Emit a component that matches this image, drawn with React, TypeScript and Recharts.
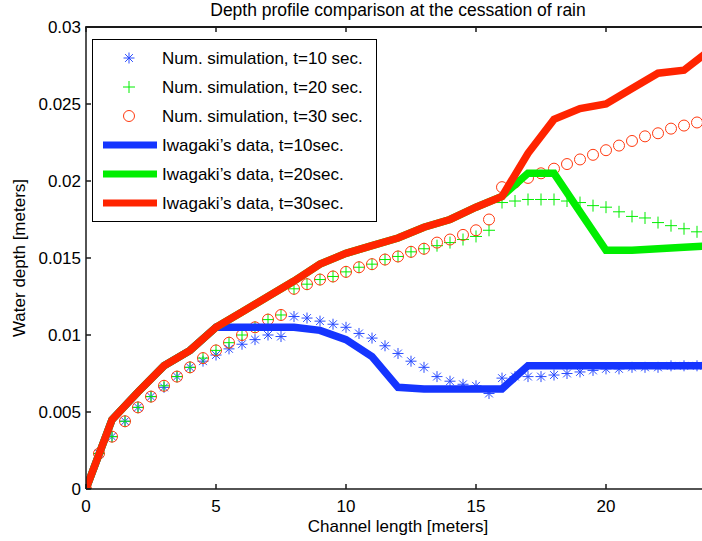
import React from 'react';
import { ComposedChart, Line, Scatter, XAxis, YAxis, Legend } from 'recharts';

// simulation output, every 0.5 m along the channel
const SIM_X = [
  0, 0.5, 1, 1.5, 2, 2.5, 3, 3.5, 4, 4.5, 5, 5.5, 6, 6.5, 7, 7.5, 8, 8.5, 9, 9.5, 10, 10.5, 11, 11.5,
  12, 12.5, 13, 13.5, 14, 14.5, 15, 15.5, 16, 16.5, 17, 17.5, 18, 18.5, 19, 19.5, 20, 20.5, 21, 21.5,
  22, 22.5, 23, 23.5,
];
const SIM_T10 = [
  0, 0.0023, 0.0034, 0.0044, 0.0053, 0.006, 0.0066, 0.0073, 0.0079, 0.0083, 0.0087, 0.0091, 0.0094,
  0.0097, 0.01, 0.0099, 0.0112, 0.0111, 0.0109, 0.0107, 0.0105, 0.0101, 0.0098, 0.0093, 0.0088,
  0.0083, 0.0079, 0.0073, 0.007, 0.0068, 0.0067, 0.0062, 0.0072, 0.0073, 0.0073, 0.0073, 0.0074,
  0.0075, 0.0076, 0.0077, 0.0078, 0.0078, 0.0079, 0.0079, 0.0079, 0.008, 0.008, 0.008,
];
const SIM_T20 = [
  0, 0.0023, 0.0034, 0.0044, 0.0053, 0.006, 0.0067, 0.0073, 0.0079, 0.0085, 0.009, 0.0095, 0.01,
  0.0105, 0.011, 0.0113, 0.013, 0.0133, 0.0136, 0.0138, 0.0141, 0.0144, 0.0146, 0.0149, 0.0151,
  0.0154, 0.0156, 0.0158, 0.016, 0.0162, 0.0164, 0.0168, 0.0186, 0.0187, 0.0188, 0.0188, 0.0188,
  0.0187, 0.0186, 0.0184, 0.0183, 0.018, 0.0177, 0.0176, 0.0173, 0.0171, 0.0169, 0.0167,
];
const SIM_T30 = [
  0, 0.0023, 0.0034, 0.0044, 0.0053, 0.006, 0.0067, 0.0073, 0.0079, 0.0085, 0.009, 0.0095, 0.01,
  0.0105, 0.011, 0.0113, 0.013, 0.0133, 0.0136, 0.0138, 0.0141, 0.0144, 0.0146, 0.0149, 0.0151,
  0.0154, 0.0156, 0.016, 0.0162, 0.0165, 0.0168, 0.0175, 0.0196, 0.0199, 0.0202, 0.0205, 0.0208,
  0.0211, 0.0214, 0.0217, 0.022, 0.0223, 0.0226, 0.0229, 0.0231, 0.0234, 0.0236, 0.0238,
];

// Iwagaki's measurements, every 1 m
const IWAGAKI_X = [0, 1, 2, 3, 4, 5, 6, 7, 8, 9, 10, 11, 12, 13, 14, 15, 16, 17, 18, 19, 20, 21, 22, 23, 24];
const IWAGAKI_T10 = [
  0, 0.0045, 0.0063, 0.008, 0.009, 0.0105, 0.0105, 0.0105, 0.0105, 0.0103, 0.0097, 0.0086, 0.0066,
  0.0065, 0.0065, 0.0065, 0.0065, 0.008, 0.008, 0.008, 0.008, 0.008, 0.008, 0.008, 0.008,
];
const IWAGAKI_T20 = [
  0, 0.0045, 0.0063, 0.008, 0.009, 0.0105, 0.0115, 0.0125, 0.0135, 0.0146, 0.0153, 0.0158, 0.0163,
  0.017, 0.0175, 0.0183, 0.019, 0.0205, 0.0205, 0.018, 0.0155, 0.0155, 0.0156, 0.0157, 0.0158,
];
const IWAGAKI_T30 = [
  0, 0.0045, 0.0063, 0.008, 0.009, 0.0105, 0.0115, 0.0125, 0.0135, 0.0146, 0.0153, 0.0158, 0.0163,
  0.017, 0.0175, 0.0183, 0.019, 0.0218, 0.024, 0.0247, 0.025, 0.026, 0.027, 0.0272, 0.0285,
];

const X_TICKS = [0, 5, 10, 15, 20];
const Y_TICKS = [0, 0.005, 0.01, 0.015, 0.02, 0.025, 0.03];
const X_MAX = 24;
const Y_MAX = 0.03;

const TITLE = 'Depth profile comparison at the cessation of rain';

// layout: the figure is cropped on the right, so the chart is wider than the 702px view
const CHART_W = 710;
const CHART_H = 541;
const PLOT_TOP = 27;
const Y_AXIS_W = 86;
const X_AXIS_H = 52;
const TICK_LEN = 5;
const AXIS_W = 1.5;

const FONT = '"Liberation Sans", Arial, Helvetica, sans-serif';
const AXIS_COLOR = '#1a1a1a';
const BLUE = '#1535ff';
const BLUE_MARK = '#2a4cff';
const GREEN = '#00ee00';
const RED = '#ff2400';
const RED_MARK = '#ff3a10';

const toPoints = (xs: number[], ys: number[]) => xs.map((x, i) => ({ x, y: ys[i] }));

type MarkerProps = { cx?: number; cy?: number; color: string };

function StarMarker({ cx = 0, cy = 0, color }: MarkerProps) {
  const r = 5.5;
  const d = 3.9;
  return (
    <g stroke={color} strokeWidth={1}>
      <line x1={cx - r} y1={cy} x2={cx + r} y2={cy} />
      <line x1={cx} y1={cy - r} x2={cx} y2={cy + r} />
      <line x1={cx - d} y1={cy - d} x2={cx + d} y2={cy + d} />
      <line x1={cx - d} y1={cy + d} x2={cx + d} y2={cy - d} />
    </g>
  );
}

function PlusMarker({ cx = 0, cy = 0, color }: MarkerProps) {
  const r = 6;
  return (
    <g stroke={color} strokeWidth={1}>
      <line x1={cx - r} y1={cy} x2={cx + r} y2={cy} />
      <line x1={cx} y1={cy - r} x2={cx} y2={cy + r} />
    </g>
  );
}

function CircleMarker({ cx = 0, cy = 0, color }: MarkerProps) {
  return <circle cx={cx} cy={cy} r={5.5} fill="none" stroke={color} strokeWidth={1} />;
}

const LEGEND_ITEMS = [
  { label: 'Num. simulation, t=10 sec.', kind: 'star', color: BLUE_MARK },
  { label: 'Num. simulation, t=20 sec.', kind: 'plus', color: GREEN },
  { label: 'Num. simulation, t=30 sec.', kind: 'circle', color: RED_MARK },
  { label: 'Iwagaki\u2019s data, t=10sec.', kind: 'line', color: BLUE },
  { label: 'Iwagaki\u2019s data, t=20sec.', kind: 'line', color: GREEN },
  { label: 'Iwagaki\u2019s data, t=30sec.', kind: 'line', color: RED },
];

function MatlabLegend() {
  return (
    <svg width={285} height={183} style={{ display: 'block' }}>
      <rect x={0.5} y={0.5} width={284} height={182} fill="#fff" stroke="#000" strokeWidth={1} />
      {LEGEND_ITEMS.map((item, i) => {
        const y = 19 + i * 29;
        return (
          <g key={item.label}>
            {item.kind === 'line' && (
              <line x1={11} y1={y} x2={65} y2={y} stroke={item.color} strokeWidth={7} />
            )}
            {item.kind === 'star' && <StarMarker cx={37} cy={y} color={item.color} />}
            {item.kind === 'plus' && <PlusMarker cx={37} cy={y} color={item.color} />}
            {item.kind === 'circle' && <CircleMarker cx={37} cy={y} color={item.color} />}
            <text x={70} y={y} dy="0.36em" fontSize={17} fill="#000" fontFamily={FONT}>
              {item.label}
            </text>
          </g>
        );
      })}
    </svg>
  );
}

function YLabel(props: any) {
  const vb = props.viewBox || { x: 0, y: PLOT_TOP, width: Y_AXIS_W, height: 462 };
  const x = vb.x + 25;
  const y = vb.y + vb.height / 2;
  return (
    <text x={x} y={y} transform={`rotate(-90, ${x}, ${y})`} textAnchor="middle" fontSize={17} fill="#000">
      Water depth [meters]
    </text>
  );
}

// top edge of the MATLAB axes box, with inward ticks at the x tick values
function BoxTop() {
  const plotW = CHART_W - Y_AXIS_W;
  const y = PLOT_TOP;
  return (
    <svg
      width={CHART_W}
      height={PLOT_TOP + TICK_LEN + 4}
      style={{ position: 'absolute', left: 0, top: 0, zIndex: 10, pointerEvents: 'none' }}
    >
      <line x1={Y_AXIS_W - AXIS_W / 2} y1={y} x2={CHART_W} y2={y} stroke={AXIS_COLOR} strokeWidth={2} />
      {X_TICKS.map((t) => {
        const x = Y_AXIS_W + (t / X_MAX) * plotW;
        return <line key={t} x1={x} y1={y} x2={x} y2={y + TICK_LEN} stroke={AXIS_COLOR} strokeWidth={AXIS_W} />;
      })}
    </svg>
  );
}

export default function App() {
  const tickStyle = { fontSize: 17, fill: '#000' };
  const axisStroke = { stroke: AXIS_COLOR, strokeWidth: AXIS_W };

  return (
    <div
      style={{
        position: 'absolute',
        left: 0,
        top: 0,
        width: 702,
        height: CHART_H,
        overflow: 'hidden',
        background: '#fff',
        fontFamily: FONT,
      }}
    >
      <div
        style={{
          position: 'absolute',
          left: Y_AXIS_W,
          top: 0,
          width: CHART_W - Y_AXIS_W,
          textAlign: 'center',
          fontSize: 17.5,
          lineHeight: '20px',
          color: '#000',
          whiteSpace: 'nowrap',
        }}
      >
        {TITLE}
      </div>
      <ComposedChart width={CHART_W} height={CHART_H} margin={{ top: PLOT_TOP, right: 0, bottom: 0, left: 0 }}>
        <XAxis
          xAxisId="bottom"
          dataKey="x"
          type="number"
          domain={[0, X_MAX]}
          ticks={X_TICKS}
          allowDataOverflow
          height={X_AXIS_H}
          tickSize={-TICK_LEN}
          tickMargin={16}
          tick={tickStyle}
          axisLine={axisStroke}
          tickLine={axisStroke}
          label={{ value: 'Channel length [meters]', position: 'insideBottom', offset: 9, fontSize: 17, fill: '#000' }}
        />
        <YAxis
          yAxisId="left"
          type="number"
          domain={[0, Y_MAX]}
          ticks={Y_TICKS}
          allowDataOverflow
          width={Y_AXIS_W}
          tickSize={-TICK_LEN}
          tickMargin={10}
          tick={tickStyle}
          tickFormatter={(v: number) => String(+v.toFixed(3))}
          axisLine={axisStroke}
          tickLine={axisStroke}
          label={{ content: YLabel }}
        />

        <Scatter
          xAxisId="bottom"
          yAxisId="left"
          data={toPoints(SIM_X, SIM_T10)}
          dataKey="y"
          zIndex={350}
          isAnimationActive={false}
          shape={(p: any) => <StarMarker cx={p.cx} cy={p.cy} color={BLUE_MARK} />}
        />
        <Scatter
          xAxisId="bottom"
          yAxisId="left"
          data={toPoints(SIM_X, SIM_T20)}
          dataKey="y"
          zIndex={350}
          isAnimationActive={false}
          shape={(p: any) => <PlusMarker cx={p.cx} cy={p.cy} color={GREEN} />}
        />
        <Scatter
          xAxisId="bottom"
          yAxisId="left"
          data={toPoints(SIM_X, SIM_T30)}
          dataKey="y"
          zIndex={350}
          isAnimationActive={false}
          shape={(p: any) => <CircleMarker cx={p.cx} cy={p.cy} color={RED_MARK} />}
        />

        <Line
          xAxisId="bottom"
          yAxisId="left"
          data={toPoints(IWAGAKI_X, IWAGAKI_T10)}
          dataKey="y"
          type="linear"
          stroke={BLUE}
          strokeWidth={7.5}
          dot={false}
          activeDot={false}
          zIndex={400}
          isAnimationActive={false}
        />
        <Line
          xAxisId="bottom"
          yAxisId="left"
          data={toPoints(IWAGAKI_X, IWAGAKI_T20)}
          dataKey="y"
          type="linear"
          stroke={GREEN}
          strokeWidth={7.5}
          dot={false}
          activeDot={false}
          zIndex={400}
          isAnimationActive={false}
        />
        <Line
          xAxisId="bottom"
          yAxisId="left"
          data={toPoints(IWAGAKI_X, IWAGAKI_T30)}
          dataKey="y"
          type="linear"
          stroke={RED}
          strokeWidth={7.5}
          dot={false}
          activeDot={false}
          zIndex={400}
          isAnimationActive={false}
        />

        <Legend
          layout="horizontal"
          verticalAlign="middle"
          align="center"
          wrapperStyle={{ left: 92, top: 39, width: 285, height: 183 }}
          content={() => <MatlabLegend />}
        />
      </ComposedChart>
      <BoxTop />
    </div>
  );
}
